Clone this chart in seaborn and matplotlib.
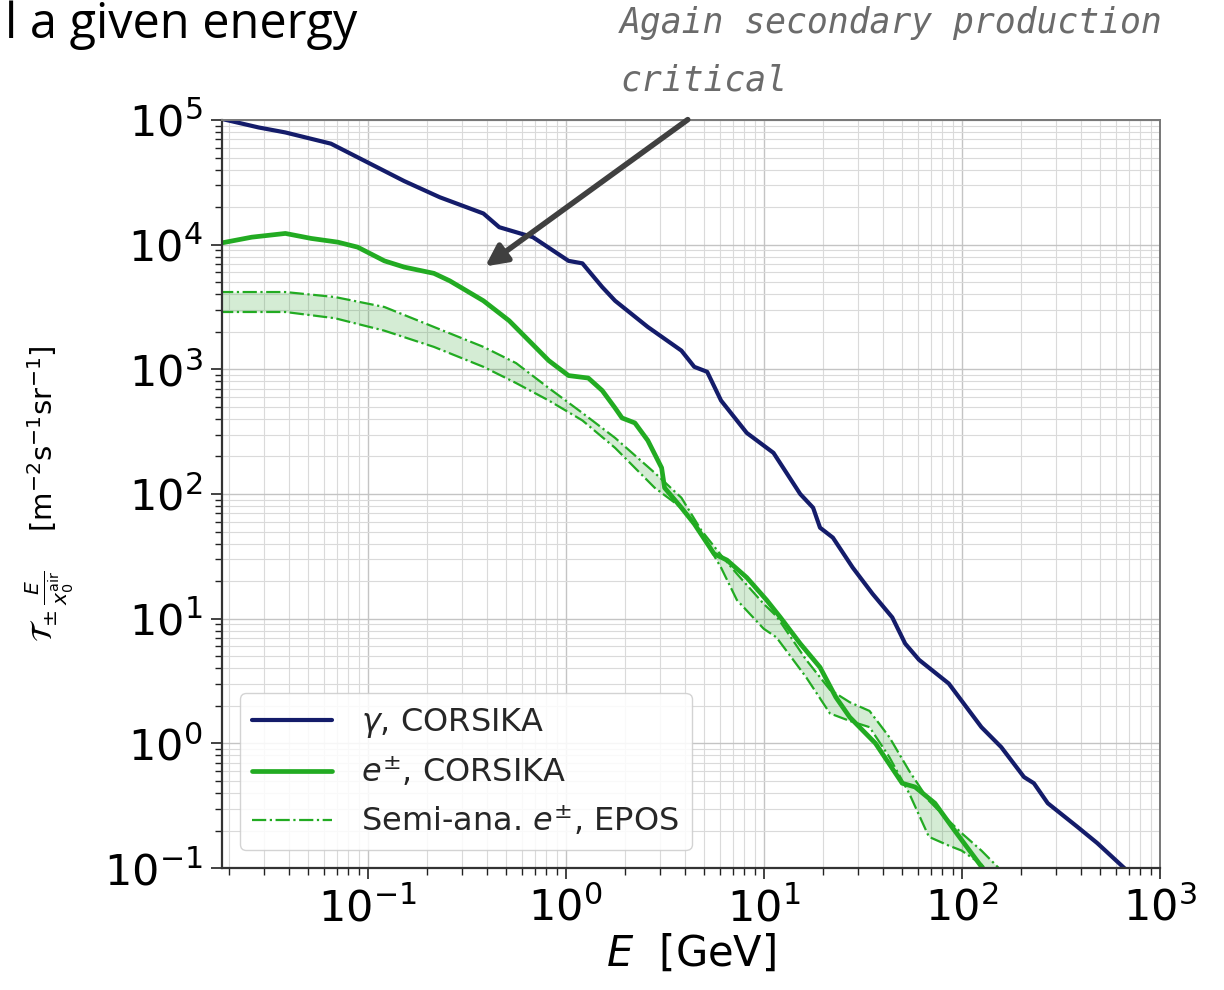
import numpy as np
import pandas as pd
import matplotlib
matplotlib.use("Agg")
import matplotlib.pyplot as plt
from matplotlib.ticker import LogLocator, NullFormatter
import seaborn as sns

# values, stored as log10(E / GeV) and log10(flux)
gamma_logE = [-1.74, -1.55, -1.415, -1.185, -1.0, -0.815, -0.635, -0.415, -0.335, -0.165,
              0.015, 0.085, 0.185, 0.25, 0.415, 0.585, 0.65, 0.715, 0.785, 0.915,
              1.05, 1.185, 1.25, 1.285, 1.35, 1.45, 1.55, 1.65, 1.715, 1.785,
              1.935, 2.10, 2.2, 2.315, 2.365, 2.435, 2.585, 2.685, 2.835]
gamma_logT = [5.01, 4.94, 4.90, 4.81, 4.66, 4.51, 4.38, 4.25, 4.14, 4.06,
              3.87, 3.85, 3.66, 3.55, 3.34, 3.15, 3.02, 2.98, 2.75, 2.49,
              2.33, 2.00, 1.89, 1.73, 1.65, 1.41, 1.20, 1.01, 0.80, 0.67,
              0.48, 0.13, -0.03, -0.27, -0.32, -0.48, -0.67, -0.80, -1.02]

ee_logE = [-1.75, -1.585, -1.415, -1.285, -1.15, -1.05, -0.915, -0.815, -0.665, -0.585,
           -0.415, -0.285, -0.185, -0.085, 0.015, 0.115, 0.185, 0.25, 0.285, 0.35,
           0.415, 0.485, 0.50, 0.585, 0.65, 0.75, 0.815, 0.915, 1.015, 1.085,
           1.185, 1.285, 1.365, 1.435, 1.565, 1.70, 1.765, 1.865, 1.965, 2.115]
ee_logT = [4.01, 4.06, 4.09, 4.05, 4.02, 3.98, 3.87, 3.82, 3.77, 3.71,
           3.55, 3.39, 3.23, 3.07, 2.95, 2.93, 2.83, 2.69, 2.61, 2.57,
           2.43, 2.21, 2.05, 1.89, 1.76, 1.52, 1.47, 1.33, 1.15, 1.01,
           0.80, 0.61, 0.37, 0.21, 0.00, -0.32, -0.35, -0.48, -0.70, -1.02]

band_logE = [-1.75, -1.415, -1.165, -0.915, -0.665, -0.415, -0.25, -0.085, 0.085, 0.25,
             0.45, 0.585, 0.685, 0.785, 0.865, 1.0, 1.065, 1.215, 1.335, 1.435,
             1.535, 1.635, 1.735, 1.835, 1.935, 2.0, 2.1, 2.2]
band_hi = [3.62, 3.62, 3.58, 3.50, 3.34, 3.18, 3.05, 2.85, 2.65, 2.45,
           2.17, 1.97, 1.71, 1.51, 1.36, 1.12, 1.02, 0.67, 0.43, 0.33,
           0.26, 0.05, -0.22, -0.46, -0.62, -0.72, -0.86, -1.02]
band_lo = [3.46, 3.46, 3.41, 3.31, 3.18, 3.02, 2.89, 2.75, 2.59, 2.37,
           2.05, 1.89, 1.68, 1.41, 1.15, 0.92, 0.85, 0.53, 0.24, 0.18,
           0.13, -0.11, -0.40, -0.75, -0.82, -0.86, -0.97, -1.15]

x_ticks = [1e-1, 1e0, 1e1, 1e2, 1e3]
y_ticks = [1e-1, 1e0, 1e1, 1e2, 1e3, 1e4, 1e5]

gamma = pd.DataFrame({"E": np.power(10.0, gamma_logE), "T": np.power(10.0, gamma_logT)})
ee = pd.DataFrame({"E": np.power(10.0, ee_logE), "T": np.power(10.0, ee_logT)})
band = pd.DataFrame({"E": np.power(10.0, band_logE),
                     "hi": np.power(10.0, band_hi),
                     "lo": np.power(10.0, band_lo)})

sns.set_theme(style="whitegrid")
plt.rcParams["font.family"] = ["DejaVu Sans"]

navy = "#141c6a"
green = "#22ab22"

fig = plt.figure(figsize=(12.24, 9.9), dpi=100)
ax = fig.add_axes([0.1814, 0.1232, 0.766, 0.7556])

ax.fill_between(band["E"], band["lo"], band["hi"], color="#2ca02c", alpha=0.2, lw=0)
sns.lineplot(data=band, x="E", y="hi", ax=ax, color=green, lw=1.6, ls="-.",
             estimator=None, label=r"Semi-ana. $e^{\pm}$, EPOS")
sns.lineplot(data=band, x="E", y="lo", ax=ax, color=green, lw=1.6, ls="-.",
             estimator=None, label="_nolegend_")
sns.lineplot(data=ee, x="E", y="T", ax=ax, color=green, lw=3.4,
             estimator=None, label=r"$e^{\pm}$, CORSIKA", solid_joinstyle="round")
sns.lineplot(data=gamma, x="E", y="T", ax=ax, color=navy, lw=3.0,
             estimator=None, label=r"$\gamma$, CORSIKA", solid_joinstyle="round")

ax.set_xscale("log")
ax.set_yscale("log")
ax.set_xlim(10 ** -1.735, 1e3)
ax.set_ylim(1e-1, 1e5)

ax.set_xticks(x_ticks)
ax.set_yticks(y_ticks)
ax.xaxis.set_minor_locator(LogLocator(base=10, subs=np.arange(2, 10), numticks=20))
ax.yaxis.set_minor_locator(LogLocator(base=10, subs=np.arange(2, 10), numticks=20))
ax.xaxis.set_minor_formatter(NullFormatter())
ax.yaxis.set_minor_formatter(NullFormatter())
ax.set_xlim(10 ** -1.735, 1e3)
ax.set_ylim(1e-1, 1e5)

ax.grid(which="major", color="#c4c4c4", lw=1.0)
ax.grid(which="minor", color="#dadada", lw=0.8)
ax.tick_params(which="both", direction="out", bottom=True, left=True, color="#222222")
ax.tick_params(which="major", length=8, width=1.2, labelsize=31, pad=6,
               labelcolor="black")
ax.tick_params(which="minor", length=5, width=1.0)
for side in ["left", "bottom"]:
    ax.spines[side].set_color("#333333")
    ax.spines[side].set_linewidth(1.6)
for side in ["top", "right"]:
    ax.spines[side].set_color("#777777")
    ax.spines[side].set_linewidth(1.4)

ax.set_xlabel(r"$E$  [GeV]", fontsize=30, labelpad=2, color="black")
ax.set_ylabel(r"$\mathcal{T}_{\pm}\,\frac{E}{x_0^{\rm air}}$    [m$^{-2}$s$^{-1}$sr$^{-1}$]",
              fontsize=21, labelpad=20, color="black")

handles, labels = ax.get_legend_handles_labels()
order = [labels.index(l) for l in [r"$\gamma$, CORSIKA", r"$e^{\pm}$, CORSIKA",
                                   r"Semi-ana. $e^{\pm}$, EPOS"]]
leg = ax.legend([handles[i] for i in order], [labels[i] for i in order],
                loc="lower left", fontsize=23, handlelength=2.5, handletextpad=0.9,
                labelspacing=0.45, borderaxespad=0.55, framealpha=0.85,
                edgecolor="#cccccc", fancybox=True)

# slide text around the chart
fig.text(0.004, 0.962, "l a given energy", fontsize=35, family="Open Sans",
         va="baseline", ha="left", color="black")
fig.text(0.5065, 0.9667, "Again secondary production", fontsize=25,
         family="DejaVu Sans Mono", style="oblique", color="#6b6b6b",
         va="baseline", ha="left")
fig.text(0.5065, 0.909, "critical", fontsize=25,
         family="DejaVu Sans Mono", style="oblique", color="#6b6b6b",
         va="baseline", ha="left")
ax.annotate("", xy=(483 / 1224, 1 - 268 / 990), xycoords="figure fraction",
            xytext=(690 / 1224, 1 - 118 / 990), textcoords="figure fraction",
            arrowprops=dict(arrowstyle="-|>", lw=4, color="#404040", mutation_scale=32),
            annotation_clip=False)

fig.savefig("out.png", dpi=100)
